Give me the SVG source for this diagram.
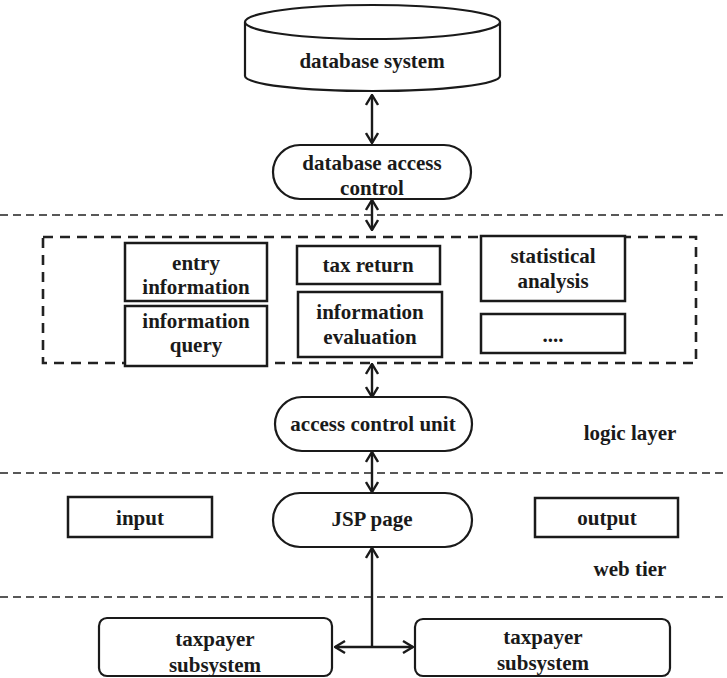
<svg xmlns="http://www.w3.org/2000/svg" width="727" height="678" viewBox="0 0 727 678">
  <style>
    .box { fill: #fff; stroke: #1a1a1a; stroke-width: 2.5; }
    .pill { fill: #fff; stroke: #1a1a1a; stroke-width: 2.2; }
    .lbl { font-family: "Liberation Serif", "Times New Roman", serif; font-weight: bold; font-size: 21px; fill: #1a1a1a; text-anchor: middle; }
    .sep { stroke: #222; stroke-width: 1.6; stroke-dasharray: 8 5; fill: none; }
    .frame { stroke: #222; stroke-width: 2.6; stroke-dasharray: 10 7; fill: none; }
    .link { stroke: #1a1a1a; stroke-width: 2.4; fill: none; }
  </style>
  <defs>
    <marker id="chev" viewBox="0 0 12 14" refX="11" refY="7" markerWidth="12" markerHeight="14" markerUnits="userSpaceOnUse" orient="auto-start-reverse">
      <polyline points="1,1 11,7 1,13" fill="none" stroke="#1a1a1a" stroke-width="2.4"/>
    </marker>
  </defs>

  <rect width="727" height="678" fill="#fff"/>

  <!-- layer separators -->
  <g id="separators">
    <line class="sep" x1="0" y1="215" x2="727" y2="215"/>
    <line class="sep" x1="0" y1="473" x2="727" y2="473"/>
    <line class="sep" x1="0" y1="597" x2="727" y2="597"/>
  </g>

  <!-- business module frame -->
  <rect id="module-frame" class="frame" x="43" y="237" width="653" height="126"/>

  <g id="connectors">
    <line class="link" x1="372" y1="95" x2="372" y2="143" marker-start="url(#chev)" marker-end="url(#chev)"/>
    <line class="link" x1="372" y1="200" x2="372" y2="230" marker-start="url(#chev)" marker-end="url(#chev)"/>
    <line class="link" x1="372" y1="364" x2="372" y2="397" marker-start="url(#chev)" marker-end="url(#chev)"/>
    <line class="link" x1="372" y1="452" x2="372" y2="492" marker-start="url(#chev)" marker-end="url(#chev)"/>
    <line class="link" x1="372" y1="647" x2="372" y2="548" marker-end="url(#chev)"/>
    <line class="link" x1="335" y1="647" x2="413" y2="647" marker-start="url(#chev)" marker-end="url(#chev)"/>
  </g>

  <g id="database-system">
    <path class="pill" d="M245,22 L245,76 A127.5,15 0 0 0 500,76 L500,22"/>
    <ellipse class="pill" cx="372.5" cy="22" rx="127.5" ry="17"/>
    <text class="lbl" x="372" y="68">database system</text>
  </g>

  <g id="database-access-control">
    <rect class="pill" x="273" y="145" width="198" height="54" rx="27"/>
    <text class="lbl" x="372" y="170">database access</text>
    <text class="lbl" x="372" y="195">control</text>
  </g>

  <g id="entry-information">
    <rect class="box" x="125" y="243" width="142" height="58"/>
    <text class="lbl" x="196" y="270">entry</text>
    <text class="lbl" x="196" y="294">information</text>
  </g>

  <g id="information-query">
    <rect class="box" x="125" y="306" width="142" height="60"/>
    <text class="lbl" x="196" y="328">information</text>
    <text class="lbl" x="196" y="352">query</text>
  </g>

  <g id="tax-return">
    <rect class="box" x="297" y="246" width="143" height="38"/>
    <text class="lbl" x="368" y="272">tax return</text>
  </g>

  <g id="information-evaluation">
    <rect class="box" x="298" y="292" width="144" height="65"/>
    <text class="lbl" x="370" y="319">information</text>
    <text class="lbl" x="370" y="344">evaluation</text>
  </g>

  <g id="statistical-analysis">
    <rect class="box" x="481" y="236" width="144" height="65"/>
    <text class="lbl" x="553" y="263">statistical</text>
    <text class="lbl" x="553" y="288">analysis</text>
  </g>

  <g id="more-modules">
    <rect class="box" x="481" y="314" width="144" height="39"/>
    <text class="lbl" x="553" y="342">....</text>
  </g>

  <g id="access-control-unit">
    <rect class="pill" x="275" y="397" width="197" height="54" rx="27"/>
    <text class="lbl" x="373" y="431">access control unit</text>
  </g>

  <text id="logic-layer" class="lbl" x="630" y="440">logic layer</text>

  <g id="input">
    <rect class="box" x="68" y="497" width="144" height="40"/>
    <text class="lbl" x="140" y="525">input</text>
  </g>

  <g id="jsp-page">
    <rect class="pill" x="273" y="493" width="199" height="54" rx="27"/>
    <text class="lbl" x="372" y="526">JSP page</text>
  </g>

  <g id="output">
    <rect class="box" x="535" y="498" width="143" height="39"/>
    <text class="lbl" x="607" y="525">output</text>
  </g>

  <text id="web-tier" class="lbl" x="630" y="576">web tier</text>

  <g id="taxpayer-subsystem-left">
    <rect class="pill" x="99" y="618" width="233" height="58" rx="8"/>
    <text class="lbl" x="215" y="646">taxpayer</text>
    <text class="lbl" x="215" y="672">subsystem</text>
  </g>

  <g id="taxpayer-subsystem-right">
    <rect class="pill" x="415" y="619" width="255" height="57" rx="8"/>
    <text class="lbl" x="543" y="644">taxpayer</text>
    <text class="lbl" x="543" y="670">subsystem</text>
  </g>
</svg>
